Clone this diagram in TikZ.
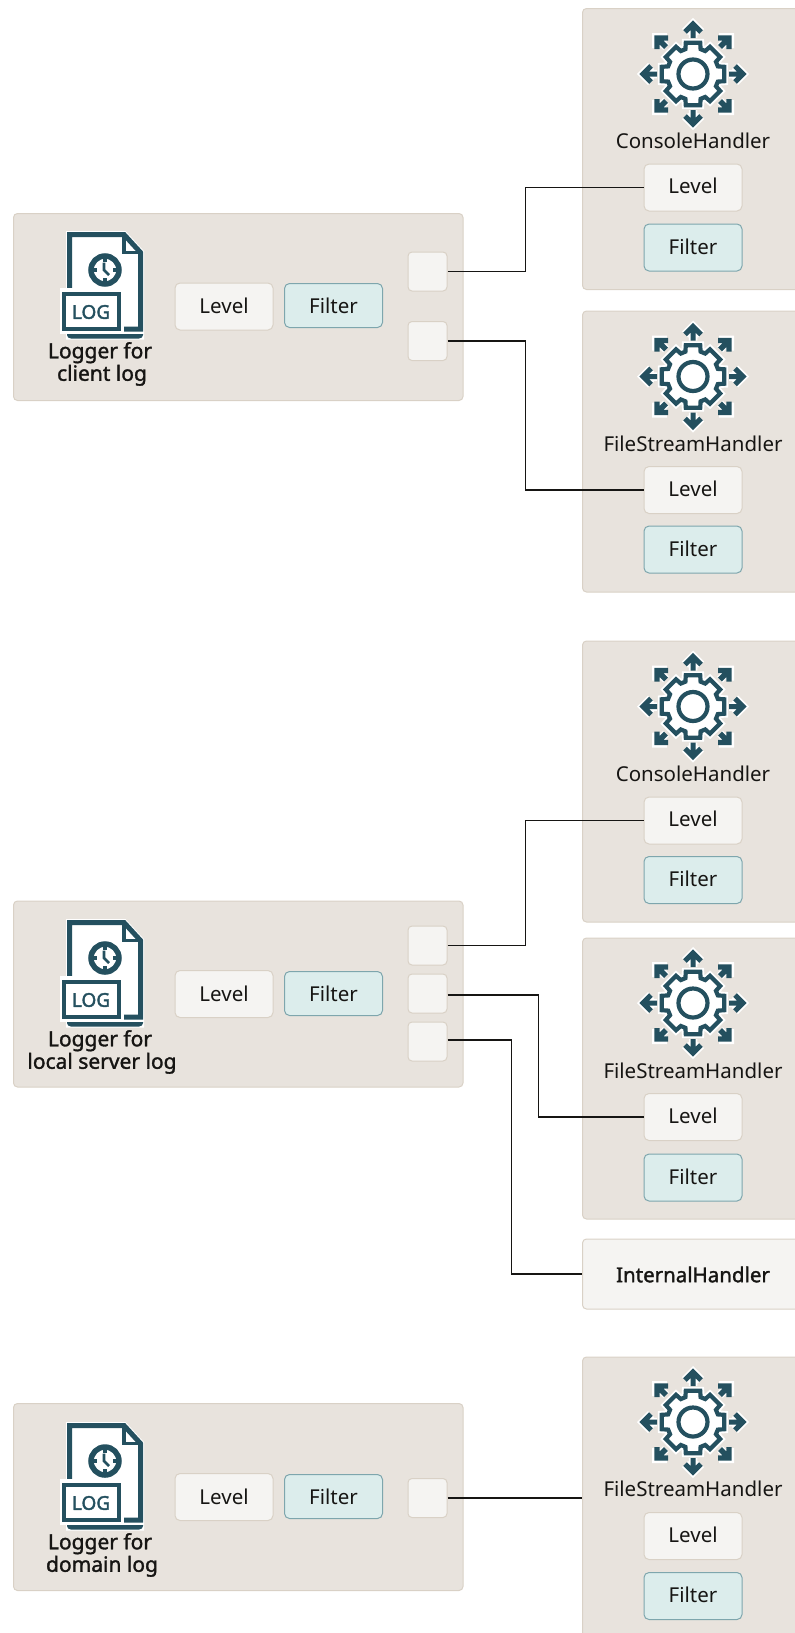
\documentclass[tikz,border=0pt]{standalone}
\usepackage{fontspec}
\setmainfont{Noto Sans}
\newfontfamily\medfont[FakeBold=1.5]{Noto Sans}
\newfontfamily\heavyfont[FakeBold=2.2]{Noto Sans}
\definecolor{paneltan}{HTML}{E8E3DD}
\definecolor{panelline}{HTML}{D9D1C6}
\definecolor{levelfill}{HTML}{F5F4F2}
\definecolor{filterfill}{HTML}{DCEDEC}
\definecolor{filterline}{HTML}{7EA6AD}
\definecolor{icondark}{HTML}{24505F}
\definecolor{inkblack}{HTML}{161513}
\tikzset{
	panelbox/.style={draw=panelline,fill=paneltan,line width=1pt,rounded corners=4pt,anchor=north west,inner sep=0pt},
	levelbox/.style={draw=panelline,fill=levelfill,line width=1pt,rounded corners=5pt,minimum width=98pt,minimum height=47pt,inner sep=0pt,text depth=3pt,text=inkblack,font=\fontsize{20.5}{22}\selectfont},
	filterbox/.style={draw=filterline,fill=filterfill,line width=1pt,rounded corners=5pt,minimum width=98pt,minimum height=47pt,inner sep=0pt,text depth=2pt,text=inkblack,font=\fontsize{20.5}{22}\selectfont},
	portbox/.style={draw=panelline,fill=levelfill,line width=1pt,rounded corners=4pt,minimum width=39pt,minimum height=39pt,inner sep=0pt},
	handlertext/.style={inner sep=0pt,text=inkblack,font=\fontsize{20.5}{22}\selectfont},
	loggertext/.style={inner sep=0pt,align=center,text=inkblack,font=\medfont\fontsize{21}{22.5}\selectfont},
	wire/.style={draw=inkblack,line width=1.2pt},
	logicon/.pic={
		% sheet with folded corner
		\draw[white,fill=white,line width=7pt,miter limit=10] (56.5,22.5) -- (111,22.5) -- (127.5,40.5) -- (127.5,124) -- (56.5,124) -- cycle;
		\draw[icondark,line width=5pt] (56.5,90) -- (56.5,22.5) -- (111,22.5) -- (127.5,40.5) -- (127.5,117) -- (111,117);
		\draw[icondark,line width=3.5pt] (111,22.5) -- (111,40.5) -- (127.5,40.5);
		\fill[icondark] (54,122) -- (130,122) -- (130,123) to[out=-90,in=0] (126,126.5) -- (58,126.5) to[out=180,in=-90] (54,123) -- cycle;
		% clock
		\draw[icondark,line width=5.5pt] (92,58) circle (14pt);
		\draw[icondark,line width=3.4pt] (92,44) -- (92,50) (92,66) -- (92,72) (78,58) -- (84,58) (100,58) -- (106,58);
		\draw[icondark,line width=2.6pt] (91,50.5) -- (91,58) -- (96,63);
		% tag
		\draw[white,fill=white,line width=4pt] (49,78) rectangle (109,120);
		\draw[icondark,line width=4.6pt] (51,82) rectangle (106,117);
		\node[inner sep=0pt,text=icondark,font=\heavyfont\fontsize{19}{19}\selectfont] (-label) at (78,100) {LOG};
	},
	gearicon/.pic={
		% eight arrows, halo first
		\draw[white,line width=8.5pt,miter limit=10,line join=miter] (0,-36) -- (0,-50) (-8,-42) -- (0,-50) -- (8,-42) (36,0) -- (50,0) (42,-8) -- (50,0) -- (42,8) (0,36) -- (0,50) (-8,42) -- (0,50) -- (8,42) (-36,0) -- (-50,0) (-42,-8) -- (-50,0) -- (-42,8);
		\draw[white,line width=8pt,miter limit=10] (27,-27) -- (37,-37) (26,-37) -- (37,-37) -- (37,-26) (27,27) -- (37,37) (26,37) -- (37,37) -- (37,26) (-27,27) -- (-37,37) (-26,37) -- (-37,37) -- (-37,26) (-27,-27) -- (-37,-37) (-26,-37) -- (-37,-37) -- (-37,-26);
		\draw[icondark,line width=5pt,miter limit=10] (0,-36) -- (0,-47) (-8,-42) -- (0,-50) -- (8,-42) (36,0) -- (47,0) (42,-8) -- (50,0) -- (42,8) (0,36) -- (0,47) (-8,42) -- (0,50) -- (8,42) (-36,0) -- (-47,0) (-42,-8) -- (-50,0) -- (-42,8);
		\draw[icondark,line width=5.4pt,miter limit=10] (27,-27) -- (35,-35) (25,-36) -- (36,-36) -- (36,-25) (27,27) -- (35,35) (25,36) -- (36,36) -- (36,25) (-27,27) -- (-35,35) (-25,36) -- (-36,36) -- (-36,25) (-27,-27) -- (-35,-35) (-25,-36) -- (-36,-36) -- (-36,-25);
		% gear
		\draw[white,line width=8pt,fill=white] (-17:26) -- (-13:32) -- (13:32) -- (17:26) -- (28:26) -- (32:32) -- (58:32) -- (62:26) -- (73:26) -- (77:32) -- (103:32) -- (107:26) -- (118:26) -- (122:32) -- (148:32) -- (152:26) -- (163:26) -- (167:32) -- (193:32) -- (197:26) -- (208:26) -- (212:32) -- (238:32) -- (242:26) -- (253:26) -- (257:32) -- (283:32) -- (287:26) -- (298:26) -- (302:32) -- (328:32) -- (332:26) -- cycle;
		\draw[icondark,line width=4.2pt,fill=white,line join=miter] (-17:26) -- (-13:32) -- (13:32) -- (17:26) -- (28:26) -- (32:32) -- (58:32) -- (62:26) -- (73:26) -- (77:32) -- (103:32) -- (107:26) -- (118:26) -- (122:32) -- (148:32) -- (152:26) -- (163:26) -- (167:32) -- (193:32) -- (197:26) -- (208:26) -- (212:32) -- (238:32) -- (242:26) -- (253:26) -- (257:32) -- (283:32) -- (287:26) -- (298:26) -- (302:32) -- (328:32) -- (332:26) -- cycle;
		\draw[icondark,line width=4.2pt] (0,0) circle (14.5pt);
	}
}
\begin{document}
\begin{tikzpicture}[x=1pt,y=-1pt]
	\clip (0,0) rectangle (795,1633);

	% upper group
	\node[panelbox,minimum width=449.5pt,minimum height=187pt] (clientlogger) at (13,213) {};
	\pic (clienticon) at (13,212) {logicon};
	\node[loggertext] (clientname) at (102,364) {Logger for\hspace*{4pt}\\client log};
	\node[levelbox,text depth=1pt] (clientlevel) at (224,306.5) {Level};
	\node[filterbox,minimum height=44pt,text depth=0pt] (clientfilter) at (333.5,305.5) {Filter};
	\node[portbox] (clientportA) at (427.5,271.5) {};
	\node[portbox] (clientportB) at (427.5,341) {};

	\node[panelbox,minimum width=240pt,minimum height=281pt] (consoleA) at (582,8) {};
	\pic at (693,74) {gearicon};
	\node[handlertext] (consoleAname) at (693,141) {ConsoleHandler};
	\node[levelbox] (consoleAlevel) at (693,187.5) {Level};
	\node[filterbox] (consoleAfilter) at (693,247.5) {Filter};

	\node[panelbox,minimum width=240pt,minimum height=281pt] (fileA) at (582,310.5) {};
	\pic at (693,376.5) {gearicon};
	\node[handlertext] (fileAname) at (693,443.5) {FileStreamHandler};
	\node[levelbox] (fileAlevel) at (693,490) {Level};
	\node[filterbox] (fileAfilter) at (693,549.5) {Filter};

	\draw[wire] (clientportA.east) -- ++(78,0) |- (consoleAlevel.west);
	\draw[wire] (clientportB.east) -- ++(78,0) |- (fileAlevel.west);

	% middle group
	\node[panelbox,minimum width=449.5pt,minimum height=186pt] (locallogger) at (13,900.5) {};
	\pic (localicon) at (13,900) {logicon};
	\node[loggertext] (localname) at (102,1052) {Logger for\hspace*{4pt}\\local server log};
	\node[levelbox,text depth=1pt] (locallevel) at (224,994) {Level};
	\node[filterbox,minimum height=44pt,text depth=0pt] (localfilter) at (333.5,993.5) {Filter};
	\node[portbox] (localportA) at (427.5,945.5) {};
	\node[portbox] (localportB) at (427.5,993.5) {};
	\node[portbox] (localportC) at (427.5,1041.5) {};

	\node[panelbox,minimum width=240pt,minimum height=281pt] (consoleB) at (582,640.5) {};
	\pic at (693,706.5) {gearicon};
	\node[handlertext] (consoleBname) at (693,773.5) {ConsoleHandler};
	\node[levelbox] (consoleBlevel) at (693,820.5) {Level};
	\node[filterbox] (consoleBfilter) at (693,880) {Filter};

	\node[panelbox,minimum width=240pt,minimum height=281pt] (fileB) at (582,937.5) {};
	\pic at (693,1003) {gearicon};
	\node[handlertext] (fileBname) at (693,1071) {FileStreamHandler};
	\node[levelbox] (fileBlevel) at (693,1117) {Level};
	\node[filterbox] (fileBfilter) at (693,1177.5) {Filter};

	\node[panelbox,fill=levelfill,minimum width=240pt,minimum height=70pt] (internal) at (582,1238.5) {};
	\node[handlertext,font=\medfont\fontsize{20.5}{22}\selectfont] (internalname) at (693,1274.5) {InternalHandler};

	\draw[wire] (localportA.east) -- ++(78,0) |- (consoleBlevel.west);
	\draw[wire] ([yshift=-1.5pt]localportB.east) -- ++(91,0) |- (fileBlevel.west);
	\draw[wire] ([yshift=1.5pt]localportC.east) -- ++(64,0) |- (internal.west);

	% lower group
	\node[panelbox,minimum width=449.5pt,minimum height=187pt] (domainlogger) at (13,1403) {};
	\pic (domainicon) at (13,1403) {logicon};
	\node[loggertext] (domainname) at (102,1555) {Logger for\hspace*{4pt}\\domain log};
	\node[levelbox,text depth=1pt] (domainlevel) at (224,1497) {Level};
	\node[filterbox,minimum height=44pt,text depth=0pt] (domainfilter) at (333.5,1496.5) {Filter};
	\node[portbox] (domainport) at (427.5,1498) {};

	\node[panelbox,minimum width=240pt,minimum height=320pt] (fileC) at (582,1356.5) {};
	\pic at (693,1422) {gearicon};
	\node[handlertext] (fileCname) at (693,1489) {FileStreamHandler};
	\node[levelbox] (fileClevel) at (693,1536) {Level};
	\node[filterbox] (fileCfilter) at (693,1596) {Filter};

	\draw[wire] (domainport.east) -- (domainport.east -| fileC.west);
\end{tikzpicture}
\end{document}
